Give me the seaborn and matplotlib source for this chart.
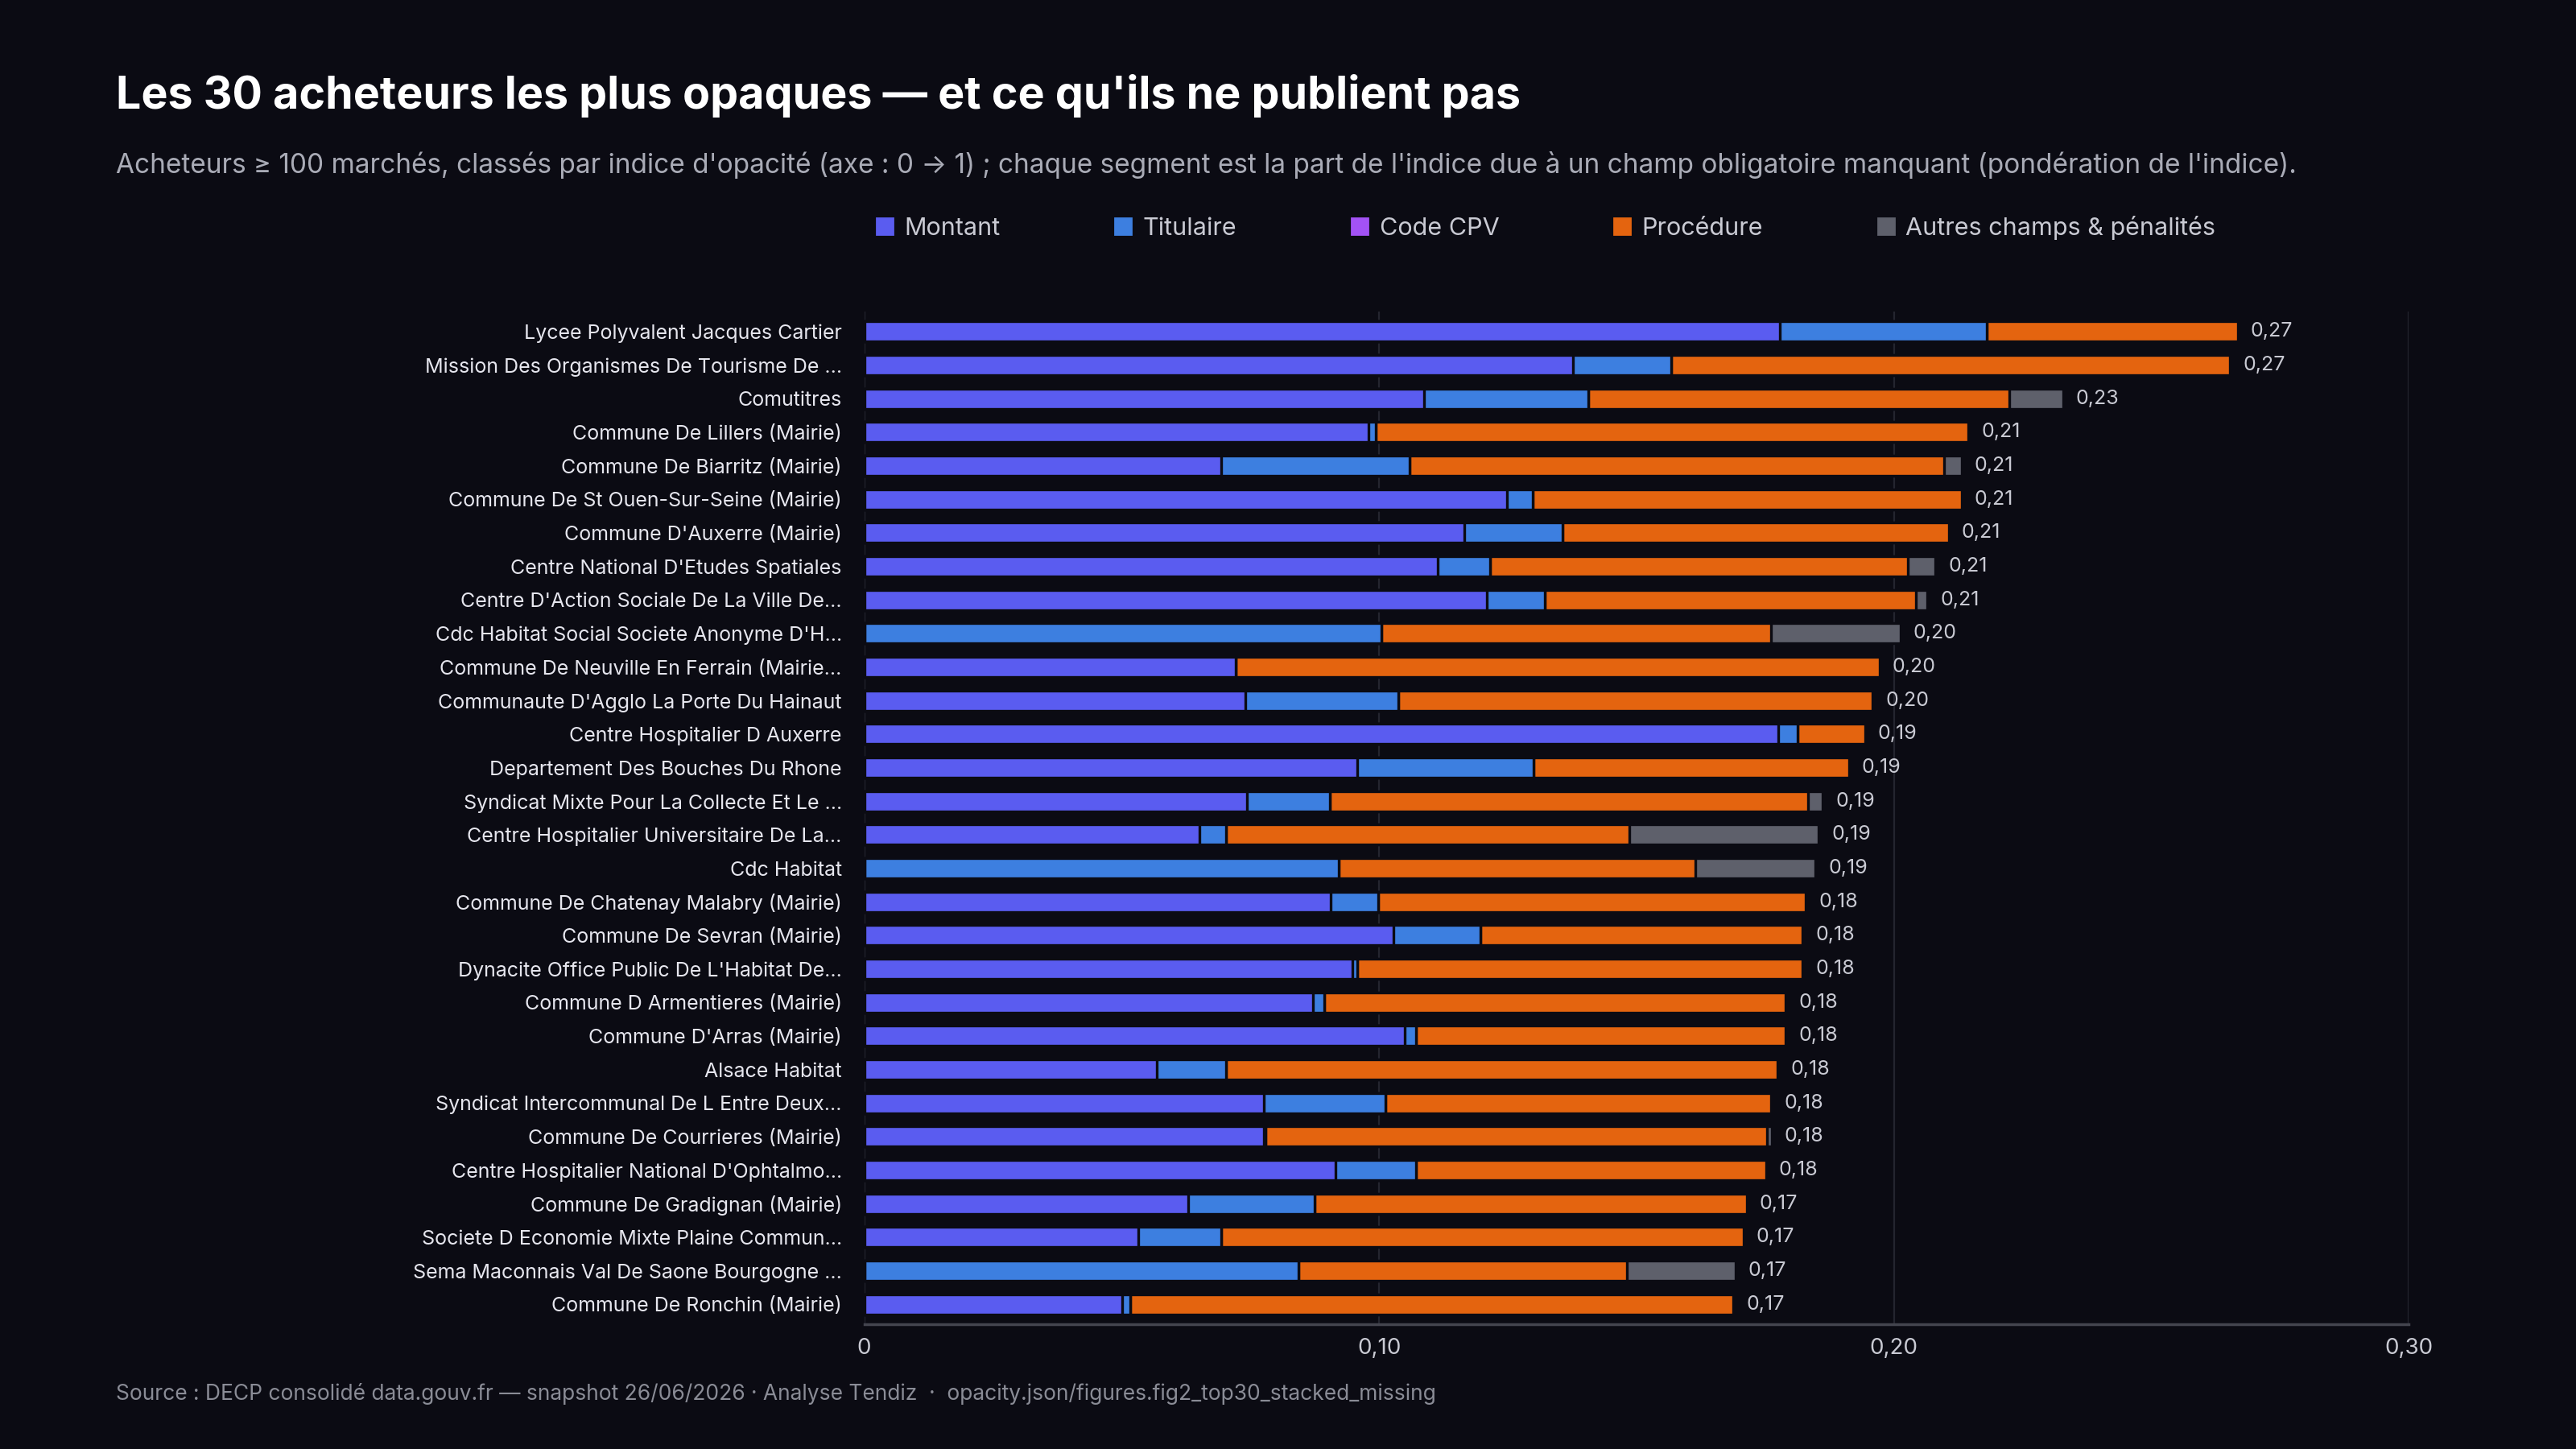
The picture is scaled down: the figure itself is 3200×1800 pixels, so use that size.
import numpy as np
import pandas as pd
import matplotlib
matplotlib.use("Agg")
import matplotlib.pyplot as plt
import seaborn as sns
from matplotlib.lines import Line2D

buyers = ["Lycee Polyvalent Jacques Cartier", "Mission Des Organismes De Tourisme De ...", "Comutitres",
          "Commune De Lillers (Mairie)", "Commune De Biarritz (Mairie)", "Commune De St Ouen-Sur-Seine (Mairie)",
          "Commune D'Auxerre (Mairie)", "Centre National D'Etudes Spatiales", "Centre D'Action Sociale De La Ville De...",
          "Cdc Habitat Social Societe Anonyme D'H...", "Commune De Neuville En Ferrain (Mairie...",
          "Communaute D'Agglo La Porte Du Hainaut", "Centre Hospitalier D Auxerre", "Departement Des Bouches Du Rhone",
          "Syndicat Mixte Pour La Collecte Et Le ...", "Centre Hospitalier Universitaire De La...", "Cdc Habitat",
          "Commune De Chatenay Malabry (Mairie)", "Commune De Sevran (Mairie)", "Dynacite Office Public De L'Habitat De...",
          "Commune D Armentieres (Mairie)", "Commune D'Arras (Mairie)", "Alsace Habitat",
          "Syndicat Intercommunal De L Entre Deux...", "Commune De Courrieres (Mairie)",
          "Centre Hospitalier National D'Ophtalmo...", "Commune De Gradignan (Mairie)",
          "Societe D Economie Mixte Plaine Commun...", "Sema Maconnais Val De Saone Bourgogne ...",
          "Commune De Ronchin (Mairie)"]
montant = [0.1778, 0.1376, 0.1088, 0.0980, 0.0693, 0.1248, 0.1165, 0.1114, 0.1210, 0.0, 0.0721, 0.0740, 0.1775,
           0.0958, 0.0744, 0.0651, 0.0, 0.0906, 0.1028, 0.0948, 0.0871, 0.1050, 0.0568, 0.0776, 0.0776, 0.0916,
           0.0629, 0.0533, 0.0, 0.0501]
titulaire = [0.0402, 0.0192, 0.0319, 0.0013, 0.0367, 0.0051, 0.0192, 0.0102, 0.0112, 0.1005, 0.0, 0.0297, 0.0038,
             0.0342, 0.0160, 0.0051, 0.0922, 0.0093, 0.0169, 0.0010, 0.0022, 0.0022, 0.0134, 0.0236, 0.0003, 0.0156,
             0.0246, 0.0160, 0.0843, 0.0016]
code_cpv = [0.0] * 30
procedure = [0.0488, 0.1085, 0.0817, 0.1152, 0.1037, 0.0833, 0.0750, 0.0811, 0.0721, 0.0756, 0.1251, 0.0922, 0.0131,
             0.0613, 0.0929, 0.0785, 0.0693, 0.0830, 0.0626, 0.0865, 0.0897, 0.0718, 0.1072, 0.0750, 0.0974, 0.0680,
             0.0839, 0.1015, 0.0638, 0.1171]
autres = [0.0, 0.0, 0.0105, 0.0, 0.0035, 0.0, 0.0, 0.0054, 0.0022, 0.0252, 0.0, 0.0, 0.0, 0.0, 0.0029, 0.0367, 0.0233,
          0.0, 0.0, 0.0, 0.0, 0.0, 0.0, 0.0, 0.0010, 0.0, 0.0, 0.0, 0.0211, 0.0]
totals = [0.27, 0.27, 0.23, 0.21, 0.21, 0.21, 0.21, 0.21, 0.21, 0.20, 0.20, 0.20, 0.19, 0.19, 0.19, 0.19, 0.19,
          0.18, 0.18, 0.18, 0.18, 0.18, 0.18, 0.18, 0.18, 0.18, 0.17, 0.17, 0.17, 0.17]

series = ["Montant", "Titulaire", "Code CPV", "Procédure", "Autres champs & pénalités"]
colors = ["#5a5cf0", "#3d7fe0", "#a352f5", "#e4640f", "#5e606b"]
BG = "#0b0b13"

sns.set_theme(style="dark")
plt.rcParams["font.family"] = ["Inter", "DejaVu Sans"]

df = pd.DataFrame({"buyer": buyers, "Montant": montant, "Titulaire": titulaire, "Code CPV": code_cpv,
                   "Procédure": procedure, "Autres champs & pénalités": autres})
cum = df[series].cumsum(axis=1)

fig = plt.figure(figsize=(16, 9), dpi=200, facecolor=BG)
ax = fig.add_axes([0.3355, 0.086, 0.5995, 0.699], facecolor=BG)

for s, c in reversed(list(zip(series, colors))):
    sns.barplot(x=cum[s], y=df["buyer"], color=c, orient="h", width=0.6, ax=ax,
                edgecolor=BG, linewidth=1.2, saturation=1)

for i, (t, s) in enumerate(zip(totals, cum[series[-1]])):
    ax.text(s + 0.0025, i, f"{t:.2f}".replace(".", ","), va="center", ha="left", color="#c9cad3", fontsize=9)

ax.set_xlim(0, 0.30)
ax.set_ylim(29.6, -0.6)
ax.set_xticks([0, 0.1, 0.2, 0.3])
ax.set_xticklabels(["0", "0,10", "0,20", "0,30"], color="#c9cad3", fontsize=10)
ax.tick_params(axis="y", colors="#e6e6ee", labelsize=9, length=0, pad=10)
ax.tick_params(axis="x", length=0, pad=6)
ax.set_xlabel("")
ax.set_ylabel("")
ax.grid(axis="x", color="#24252f", linewidth=0.8)
ax.grid(axis="y", visible=False)
ax.set_axisbelow(True)
for sp in ["top", "right", "left"]:
    ax.spines[sp].set_visible(False)
ax.spines["bottom"].set_color("#44454f")

fig.text(0.045, 0.934, "Les 30 acheteurs les plus opaques — et ce qu'ils ne publient pas",
         color="white", fontsize=20, fontweight="bold", va="center")
fig.text(0.045, 0.886, "Acheteurs ≥ 100 marchés, classés par indice d'opacité (axe : 0 → 1) ; chaque segment est la part "
         "de l'indice due à un champ obligatoire manquant (pondération de l'indice).",
         color="#a9abb6", fontsize=12, va="center", family=["Inter", "DejaVu Sans"])
handles = [Line2D([], [], marker="s", linestyle="", color=c, markersize=7) for c in colors]
fig.legend(handles, series, loc="center left", bbox_to_anchor=(0.33, 0.843), ncol=5, frameon=False,
           labelcolor="#c9cad3", fontsize=11, columnspacing=4.5, handletextpad=0.3, handlelength=1)
fig.text(0.045, 0.038, "Source : DECP consolidé data.gouv.fr — snapshot 26/06/2026 · Analyse Tendiz  ·  "
         "opacity.json/figures.fig2_top30_stacked_missing", color="#8a8c96", fontsize=9.5, va="center")

fig.savefig("out.png", dpi=200, facecolor=BG)
